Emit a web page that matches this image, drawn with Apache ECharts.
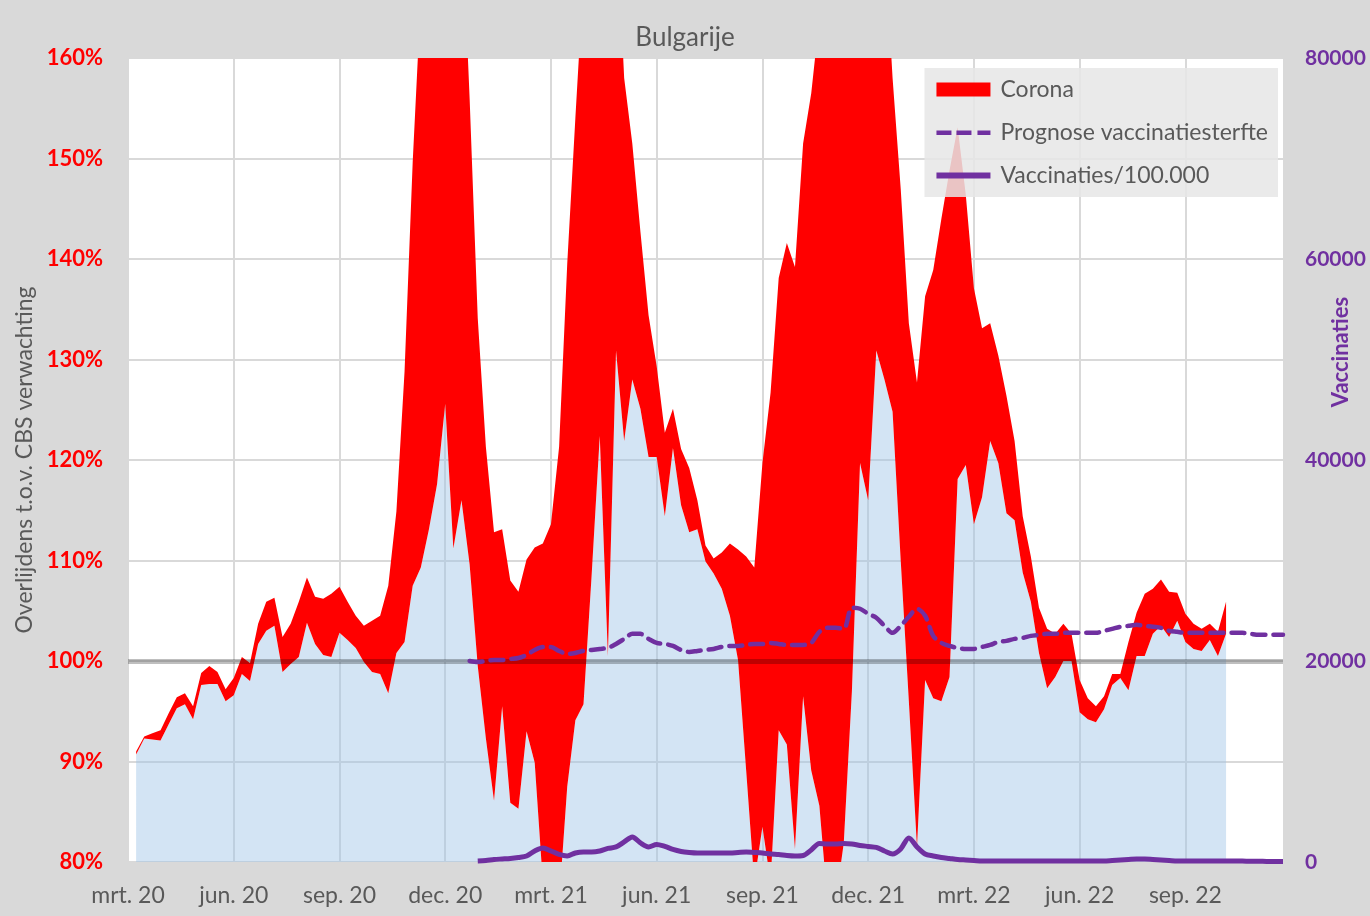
<!DOCTYPE html>
<html>
<head>
<meta charset="utf-8">
<script src="https://cdn.jsdelivr.net/npm/echarts@6/dist/echarts.min.js"></script>
<style>
  html, body { margin: 0; padding: 0; background: #d9d9d9; }
  #chart { width: 1370px; height: 916px; }
</style>
</head>
<body>
<div id="chart"></div>
<script>
// x axis runs in weeks since 1 March 2020 (0..142); one label per quarter (13 weeks)
const weekCount = 143
const quarterLabels = ['mrt. 20', 'jun. 20', 'sep. 20', 'dec. 20', 'mrt. 21', 'jun. 21',
  'sep. 21', 'dec. 21', 'mrt. 22', 'jun. 22', 'sep. 22']

// mortality, % of CBS expectation, weeks 1..135
const mortalityStart = 1
const otherMortality = [
  90.7, 92.3, 92.2, 92.1, 93.7, 95.3, 95.7, 94.2, 97.6, 97.7,
  97.7, 96.0, 96.6, 98.7, 98.0, 101.7, 103.0, 103.5, 98.9, 99.7,
  100.4, 103.8, 101.7, 100.6, 100.4, 102.8, 102.1, 101.3, 99.9, 98.9,
  98.7, 96.8, 100.8, 101.9, 107.5, 109.3, 113.1, 117.6, 125.6, 111.2,
  116.0, 109.6, 99.5, 92.3, 86.1, 95.5, 85.9, 85.3, 93.0, 89.9,
  78.0, 76.0, 76.0, 87.5, 94.1, 95.7, 108.5, 122.4, 100.5, 130.9,
  121.9, 128.0, 125.1, 120.3, 120.3, 114.4, 121.2, 115.5, 112.8, 113.1,
  109.9, 108.7, 107.2, 104.5, 100.1, 89.1, 78.0, 83.5, 78.0, 93.1,
  91.7, 81.3, 96.5, 89.1, 85.6, 76.0, 76.0, 81.9, 97.0, 119.7,
  116.0, 130.9, 128.0, 124.8, 110.0, 96.0, 81.5, 98.1, 96.3, 96.0,
  98.4, 118.1, 119.5, 113.6, 116.3, 121.9, 119.7, 114.7, 114.0, 108.8,
  105.9, 100.8, 97.3, 98.4, 100.0, 100.0, 94.9, 94.2, 93.9, 95.2,
  97.6, 98.3, 97.1, 100.5, 100.5, 102.7, 103.5, 102.4, 104.0, 101.9,
  101.2, 101.0, 102.1, 100.5, 102.7
]
const totalMortality = [
  91.0, 92.5, 92.8, 93.1, 94.8, 96.4, 96.8, 95.5, 98.8, 99.5,
  98.9, 97.2, 98.3, 100.4, 99.8, 103.7, 105.9, 106.3, 102.4, 103.7,
  105.9, 108.3, 106.4, 106.2, 106.7, 107.4, 105.9, 104.5, 103.5, 104.0,
  104.5, 107.5, 114.9, 128.8, 149.6, 166, 178, 185, 188, 186,
  175, 156, 134.1, 121.3, 112.8, 113.1, 108.0, 106.9, 110.1, 111.3,
  111.7, 113.6, 121.3, 139.5, 154, 168, 180, 185, 185, 175,
  158, 151.5, 142.7, 134.4, 129.3, 122.7, 125.1, 121.1, 119.2, 116.0,
  111.5, 110.2, 110.8, 111.7, 111.1, 110.4, 109.3, 119.7, 126.7, 138.1,
  141.6, 139.2, 151.5, 156.5, 164, 175, 180, 185, 188, 188,
  185, 182, 172, 158, 147, 133.6, 127.7, 136.3, 138.9, 144.0,
  148.8, 153.1, 146.4, 137.1, 133.1, 133.6, 130.4, 126.4, 121.9, 114.4,
  110.4, 105.3, 103.2, 102.7, 103.7, 102.7, 98.1, 96.3, 95.5, 96.5,
  98.7, 98.7, 101.9, 104.8, 106.7, 107.2, 108.1, 106.9, 106.8, 104.7,
  103.7, 103.2, 103.7, 102.9, 105.9
]

// prognosis vaccination mortality (%), weeks 42..142
const prognosisStart = 42
const prognosis = [
  100.0, 99.9, 100.0, 100.1, 100.1, 100.2, 100.3, 100.6, 101.1, 101.4,
  101.4, 101.0, 100.7, 100.8, 101.0, 101.1, 101.2, 101.3, 101.7, 102.2,
  102.7, 102.7, 102.2, 101.8, 101.7, 101.5, 101.1, 100.9, 101.0, 101.1,
  101.2, 101.4, 101.5, 101.5, 101.6, 101.7, 101.7, 101.8, 101.7, 101.6,
  101.6, 101.6, 101.8, 102.9, 103.3, 103.3, 103.2, 105.3, 105.2, 104.7,
  104.3, 103.5, 102.8, 103.5, 104.4, 105.2, 104.5, 102.5, 101.8, 101.5,
  101.3, 101.2, 101.2, 101.4, 101.6, 101.9, 102.0, 102.2, 102.3, 102.5,
  102.6, 102.7, 102.7, 102.8, 102.8, 102.8, 102.8, 102.8, 103.0, 103.2,
  103.4, 103.5, 103.6, 103.5, 103.4, 103.3, 103.0, 102.9, 102.8, 102.8,
  102.8, 102.8, 102.8, 102.8, 102.8, 102.8, 102.7, 102.6, 102.6, 102.6,
  102.6
]

// vaccinations per week (right axis), weeks 43..142
const vaccStart = 43
const vaccinations = [
  100, 150, 250, 300, 350, 450, 600, 1100, 1400, 1100,
  750, 600, 900, 1000, 1000, 1100, 1350, 1500, 2000, 2500,
  1900, 1500, 1750, 1550, 1250, 1050, 950, 900, 900, 900,
  900, 900, 950, 1000, 950, 900, 800, 750, 650, 600,
  650, 1200, 1850, 1800, 1800, 1850, 1800, 1650, 1550, 1450,
  1100, 800, 1300, 2400, 1500, 800, 600, 450, 350, 250,
  200, 150, 100, 100, 100, 100, 100, 100, 100, 100,
  100, 100, 100, 100, 100, 100, 100, 100, 150, 200,
  250, 300, 300, 250, 200, 150, 100, 100, 100, 100,
  100, 100, 100, 100, 90, 80, 70, 60, 50, 50
]

const grey = '#595959'
const purple = '#7030a0'
const font = 'Lato'

// place a series that starts at week `start` on the full week axis
function onWeeks(start, values) {
  const out = new Array(weekCount).fill(null)
  values.forEach((v, i) => { out[start + i] = v })
  return out
}

const weeks = Array.from({ length: weekCount }, (_, i) => String(i))
const coronaExtra = totalMortality.map((t, i) => +(t - otherMortality[i]).toFixed(2))
const isQuarter = index => index % 13 === 0

const chart = echarts.init(document.getElementById('chart'))

chart.setOption({
  animation: false,
  backgroundColor: '#d9d9d9',
  textStyle: { fontFamily: font },
  title: {
    text: 'Bulgarije',
    left: 'center',
    top: 20,
    textStyle: { fontFamily: font, fontSize: 26, fontWeight: 'normal', color: grey }
  },
  grid: {
    left: 128, right: 87, top: 58, bottom: 54,
    show: true, backgroundColor: '#ffffff', borderWidth: 0
  },
  legend: {
    orient: 'vertical',
    right: 92,
    top: 68,
    padding: [10, 10, 10, 12],
    backgroundColor: 'rgba(230,230,230,0.85)',
    itemWidth: 54,
    itemHeight: 14,
    itemGap: 20,
    textStyle: { fontFamily: font, fontSize: 23, color: grey, lineHeight: 22, padding: [0, 0, 0, 5] },
    data: [
      { name: 'Corona', icon: 'rect' },
      { name: 'Prognose vaccinatiesterfte', icon: 'path://M0,0M54,14M0,5h15v4.5h-15zM20,5h15v4.5h-15zM41,5h13v4.5h-13z' },
      { name: 'Vaccinaties/100.000', icon: 'path://M0,0M54,14M0,4h54v6h-54z' }
    ]
  },
  xAxis: {
    type: 'category',
    data: weeks,
    boundaryGap: false,
    axisLine: { show: false },
    axisTick: { show: false },
    splitLine: { show: true, interval: isQuarter, lineStyle: { color: '#d9d9d9', width: 2 } },
    axisLabel: {
      interval: isQuarter,
      margin: 22,
      fontSize: 23,
      color: grey,
      formatter: v => quarterLabels[+v / 13] || ''
    }
  },
  yAxis: [
    {
      type: 'value',
      min: 80,
      max: 160,
      interval: 10,
      name: 'Overlijdens t.o.v. CBS verwachting',
      nameLocation: 'middle',
      nameGap: 89,
      nameTextStyle: { fontFamily: font, fontSize: 23, color: grey },
      axisLine: { show: false },
      axisTick: { show: false },
      splitLine: { lineStyle: { color: '#d9d9d9', width: 2 } },
      axisLabel: {
        margin: 25, fontSize: 22, fontWeight: 'bold', color: '#ff0000',
        formatter: v => v + '%'
      }
    },
    {
      type: 'value',
      min: 0,
      max: 80000,
      interval: 20000,
      axisLine: { show: false },
      axisTick: { show: false },
      splitLine: { show: false },
      axisLabel: {
        margin: 22, fontSize: 21, fontWeight: 'bold', color: purple,
        formatter: v => String(v)
      }
    }
  ],
  graphic: [{
    type: 'text',
    x: 1341,
    y: 352,
    rotation: Math.PI / 2,
    style: {
      text: 'Vaccinaties',
      fontFamily: font,
      fontSize: 22,
      fontWeight: 'bold',
      fill: purple,
      align: 'center',
      verticalAlign: 'middle'
    }
  }],
  series: [
    {
      name: 'Overig',
      type: 'line',
      stack: 'mort',
      symbol: 'none',
      data: onWeeks(mortalityStart, otherMortality),
      lineStyle: { width: 0 },
      itemStyle: { color: '#9dc3e6' },
      areaStyle: { color: '#9dc3e6', opacity: 0.45 },
      markLine: {
        silent: true,
        symbol: 'none',
        label: { show: false },
        lineStyle: { color: 'rgba(0,0,0,0.25)', width: 5, type: 'solid' },
        data: [{ yAxis: 100 }]
      }
    },
    {
      name: 'Corona',
      type: 'line',
      stack: 'mort',
      symbol: 'none',
      data: onWeeks(mortalityStart, coronaExtra),
      lineStyle: { width: 0, color: '#ff0000' },
      itemStyle: { color: '#ff0000' },
      areaStyle: { color: '#ff0000', opacity: 1 }
    },
    {
      name: 'Prognose vaccinatiesterfte',
      type: 'line',
      z: 6,
      symbol: 'none',
      smooth: 0.3,
      data: onWeeks(prognosisStart, prognosis),
      itemStyle: { color: purple },
      lineStyle: { color: purple, width: 4.5, type: [13, 8], cap: 'round' }
    },
    {
      name: 'Vaccinaties/100.000',
      type: 'line',
      z: 6,
      yAxisIndex: 1,
      symbol: 'none',
      smooth: 0.3,
      data: onWeeks(vaccStart, vaccinations),
      itemStyle: { color: purple },
      lineStyle: { color: purple, width: 5 }
    }
  ]
})
</script>
</body>
</html>
